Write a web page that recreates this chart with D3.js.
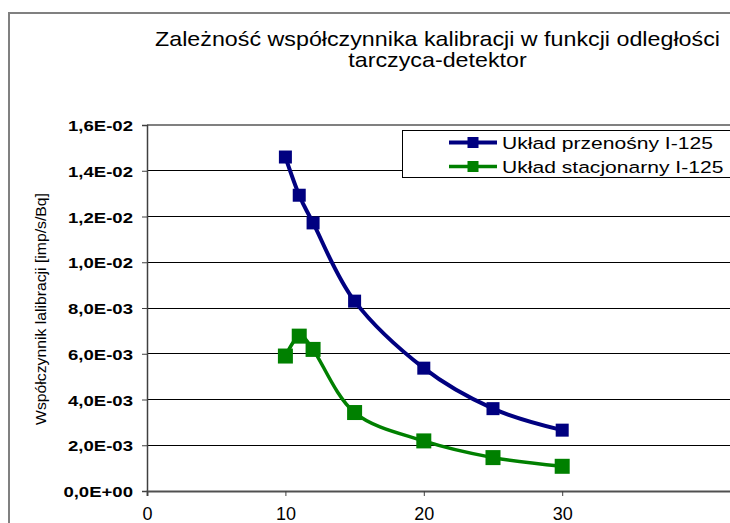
<!DOCTYPE html>
<html>
<head>
<meta charset="utf-8">
<script src="https://cdn.jsdelivr.net/npm/d3@7"></script>
<style>
  body { margin: 0; background: #fff; }
  text { font-family: "Liberation Sans", Arial, sans-serif; }
</style>
</head>
<body>
<svg id="chart" width="730" height="523"></svg>
<script>
// odległość tarczyca-detektor [cm]
var distances = [10, 11, 12, 15, 20, 25, 30]
var przenosny = [1.46e-2, 1.293e-2, 1.172e-2, 8.30e-3, 5.37e-3, 3.60e-3, 2.66e-3]
var stacjonarny = [5.90e-3, 6.77e-3, 6.19e-3, 3.43e-3, 2.19e-3, 1.46e-3, 1.08e-3]

var xTicks = [0, 10, 20, 30]
var yTicks = [0, 0.002, 0.004, 0.006, 0.008, 0.010, 0.012, 0.014, 0.016]

var seriesNames = ['Układ przenośny I-125', 'Układ stacjonarny I-125']
var titleLines = ['Zależność współczynnika kalibracji w funkcji odległości', 'tarczyca-detektor']
var yTitle = 'Współczynnik lalibracji [imp/s/Bq]'

var series = [
    { name: seriesNames[0], values: przenosny, color: '#000080', width: 4, marker: 13 }
  , { name: seriesNames[1], values: stacjonarny, color: '#008000', width: 3.5, marker: 15 }
]

var svg = d3.select('#chart')

var x = d3.scaleLinear().domain([0, 45]).range([147, 769.8])
  , y = d3.scaleLinear().domain([0, 0.016]).range([491, 125])

// the original export is wider than plain Arial: stretch glyphs horizontally
// so that the text ends at the same place. (ax, ay) is the anchor point.
function squeeze(node, k, ax, ay, rot) {
  node.setAttribute('x', 0)
  node.setAttribute('y', 0)
  node.setAttribute('transform',
    'translate(' + ax + ',' + ay + ')' + (rot ? ' rotate(' + rot + ')' : '') + ' scale(' + k + ',1)')
}

function sciComma(v) {
  if(v === 0) return '0,0E+00'
  var exp = Math.floor(Math.log10(v) + 1e-9)
    , mant = v / Math.pow(10, exp)
  return mant.toFixed(1).replace('.', ',') + 'E' + (exp < 0 ? '-' : '+') +
    String(Math.abs(exp)).padStart(2, '0')
}

// outer chart frame
svg.append('rect')
  .attr('x', 9).attr('y', 13)
  .attr('width', 800).attr('height', 600)
  .attr('fill', 'none')
  .attr('stroke', '#808080')
  .attr('stroke-width', 2)

// title
var titleText = svg.append('g')
  .selectAll('text')
  .data(titleLines)
  .enter()
    .append('text')
    .attr('text-anchor', 'middle')
    .attr('font-size', 20)
    .attr('fill', '#000')
    .text(function(d) { return d })

var titleK = 565 / titleText.node().getComputedTextLength()
titleText.each(function(d, i) { squeeze(this, titleK, 437.5, 46 + i * 21) })

// gridlines
svg.append('g')
  .selectAll('line')
  .data(yTicks.filter(function(d) { return d > 0 }))
  .enter()
    .append('line')
    .attr('x1', x(0)).attr('x2', 730)
    .attr('y1', function(d) { return y(d) })
    .attr('y2', function(d) { return y(d) })
    .attr('stroke', function(d, i, arr) { return i === arr.length - 1 ? '#808080' : '#000' })
    .attr('stroke-width', function(d, i, arr) { return i === arr.length - 1 ? 2 : 1 })
    .attr('shape-rendering', 'crispEdges')

// y axis
var yAxis = svg.append('g')
  .attr('transform', 'translate(' + x(0) + ',0)')
  .call(d3.axisLeft(y).tickValues(yTicks).tickFormat(sciComma).tickSize(5).tickPadding(14))

yAxis.select('.domain').attr('stroke', '#404040').attr('stroke-width', 1.5)
yAxis.selectAll('.tick line').attr('stroke', '#404040')

var yLabels = yAxis.selectAll('.tick text')
  .attr('font-family', '"Liberation Sans", Arial, sans-serif')
  .attr('font-size', 15)
  .attr('font-weight', 'bold')
  .attr('fill', '#000')
  .attr('dy', null)

var yK = 65 / yLabels.nodes()[yLabels.size() - 1].getComputedTextLength()
yLabels.each(function() { squeeze(this, yK, -14, 5.5) })

// x axis
var xAxis = svg.append('g')
  .attr('transform', 'translate(0,' + y(0) + ')')
  .call(d3.axisBottom(x).tickValues(xTicks).tickFormat(d3.format('d')).tickSize(5).tickPadding(11))

xAxis.select('.domain').attr('stroke', '#505050').attr('stroke-width', 2)
xAxis.selectAll('.tick line').attr('stroke', '#404040')
xAxis.selectAll('.tick text')
  .attr('font-family', '"Liberation Sans", Arial, sans-serif')
  .attr('font-size', 18)
  .attr('fill', '#000')

// y axis title
var yt = svg.append('text')
  .attr('text-anchor', 'middle')
  .attr('font-size', 15)
  .attr('fill', '#000')
  .text(yTitle)
squeeze(yt.node(), 232 / yt.node().getComputedTextLength(), 46, 309, -90)

// series
var line = d3.line()
  .x(function(d) { return x(d[0]) })
  .y(function(d) { return y(d[1]) })
  .curve(d3.curveCardinal.tension(0))

series.forEach(function(s) {
  var pts = distances.map(function(dist, i) { return [dist, s.values[i]] })

  svg.append('path')
    .datum(pts)
    .attr('d', line)
    .attr('fill', 'none')
    .attr('stroke', s.color)
    .attr('stroke-width', s.width)
    .attr('stroke-linejoin', 'round')

  svg.append('g')
    .selectAll('rect')
    .data(pts)
    .enter()
      .append('rect')
      .attr('x', function(d) { return x(d[0]) - s.marker / 2 })
      .attr('y', function(d) { return y(d[1]) - s.marker / 2 })
      .attr('width', s.marker)
      .attr('height', s.marker)
      .attr('fill', s.color)
})

// legend
var legend = svg.append('g')

legend.append('rect')
  .attr('x', 402.5).attr('y', 130.5)
  .attr('width', 400).attr('height', 47)
  .attr('fill', '#fff')
  .attr('stroke', '#000')
  .attr('stroke-width', 1)

var item = legend.selectAll('.item')
  .data(series)
  .enter()
    .append('g')
    .attr('class', 'item')
    .attr('transform', function(d, i) { return 'translate(0,' + (142.5 + i * 24) + ')' })

item.append('line')
  .attr('x1', 449).attr('x2', 497)
  .attr('stroke', function(d) { return d.color })
  .attr('stroke-width', function(d) { return d.width })

item.append('rect')
  .attr('x', 473 - 5.5).attr('y', -5.5)
  .attr('width', 11).attr('height', 11)
  .attr('fill', function(d) { return d.color })

var legText = item.append('text')
  .attr('font-size', 17)
  .attr('fill', '#000')
  .text(function(d) { return d.name })

var legK = 211 / legText.node().getComputedTextLength()
legText.each(function() { squeeze(this, legK, 502, 6) })
</script>
</body>
</html>
